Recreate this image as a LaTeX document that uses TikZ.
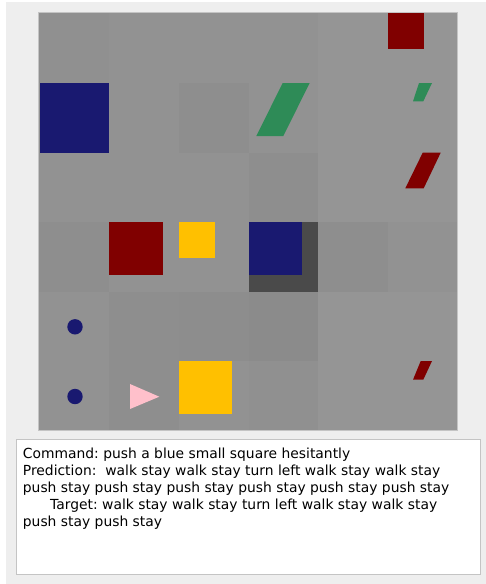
\documentclass[tikz,border=0pt]{standalone}
\usepackage{fontspec}
\setmainfont{DejaVu Sans}
\definecolor{bgout}{HTML}{EEEEEE}
\definecolor{cbase}{HTML}{929292}
\definecolor{cdark}{HTML}{8E8E8E}
\definecolor{cdarker}{HTML}{8B8B8B}
\definecolor{clight}{HTML}{959595}
\definecolor{cwall}{HTML}{4A4A4A}
\definecolor{cred}{HTML}{800000}
\definecolor{cblue}{HTML}{191970}
\definecolor{cgreen}{HTML}{2E8B57}
\definecolor{cyellow}{HTML}{FFC000}
\definecolor{cpink}{HTML}{FFC0CB}
\definecolor{cborder}{HTML}{C4C4C4}
\tikzset{
  txt/.style={anchor=base west, inner sep=0pt, font=\fontsize{13.87}{17}\selectfont, text=black},
}
\begin{document}
\begin{tikzpicture}[x=1pt,y=-1pt]
\useasboundingbox (0,0) rectangle (486,584);
\fill[white] (0,0) rectangle (486,584);
\fill[bgout] (6,2) rectangle (486,584);
% grid background
\fill[cbase] (38.5,12.5) rectangle (457.5,430);
\def\xs{{38.5,108.5,178.5,248.5,318,388,457.5}}
\def\ys{{12.5,83,152.5,222,291.5,361,430}}
\newcommand{\mycell}[3]{%
  \pgfmathsetmacro{\xa}{\xs[#1]}\pgfmathsetmacro{\xb}{\xs[#1+1]}%
  \pgfmathsetmacro{\ya}{\ys[#2]}\pgfmathsetmacro{\yb}{\ys[#2+1]}%
  \fill[#3] (\xa,\ya) rectangle (\xb,\yb);}
\mycell{0}{0}{cdark!50!cbase}
\mycell{4}{0}{clight}
\mycell{5}{0}{clight}
\mycell{2}{1}{cdark}
\mycell{4}{1}{clight}
\mycell{5}{1}{clight}
\mycell{3}{2}{cdark}
\mycell{4}{2}{clight}
\mycell{5}{2}{clight}
\mycell{0}{3}{cdark}
\mycell{4}{3}{cdark}
\mycell{1}{4}{cdark}
\mycell{2}{4}{cdark!50!cdarker}
\mycell{3}{4}{cdarker}
\mycell{4}{4}{clight}
\mycell{5}{4}{clight}
\mycell{1}{5}{cdark}
\mycell{3}{5}{cdark!50!cbase}
\mycell{4}{5}{clight}
\mycell{5}{5}{clight}
\mycell{3}{3}{cwall}
% objects
\fill[cred] (388,13.3) rectangle (424,49.3);
\fill[cblue] (39.5,83) rectangle (109,152.5);
\fill[cgreen] (282.7,83) -- (309.7,83) -- (283.3,136) -- (256.3,136) -- cycle;
\fill[cgreen] (419,83) -- (432,83) -- (423.3,101.3) -- (413,101.3) -- cycle;
\fill[cred] (422.7,152.7) -- (440.7,152.7) -- (423.7,188.3) -- (405.3,188.3) -- cycle;
\fill[cred] (109.3,222) rectangle (162.7,275.3);
\fill[cyellow] (179,222) rectangle (215,257.7);
\fill[cblue] (248.5,222) rectangle (302,275.3);
\fill[cblue] (75,326.8) circle (7.7);
\fill[cblue] (75,396.5) circle (7.7);
\fill[cpink] (130,384) -- (159.3,396.7) -- (130,409) -- cycle;
\fill[cyellow] (179,361) rectangle (232,414.3);
\fill[cred] (420.7,361) -- (432,361) -- (423.3,379.7) -- (413,379.7) -- cycle;
\draw[cborder, line width=0.8pt] (38.5,12.5) rectangle (457.5,430);
% text box
\draw[cborder, fill=white, line width=1pt] (16.7,439.3) rectangle (480,574.3);
\frenchspacing
\node[txt] (l1) at (22.7,458) {Command: push a blue small square hesitantly};
\node[txt] (l2) at (22.7,475) {Prediction:\ \ walk stay walk stay turn left walk stay walk stay};
\node[txt] (l3) at (22.7,492) {push stay push stay push stay push stay push stay push stay};
\node[txt] (l4) at (50,509) {Target: walk stay walk stay turn left walk stay walk stay};
\node[txt] (l5) at (22.7,526) {push stay push stay};
\end{tikzpicture}
\end{document}
